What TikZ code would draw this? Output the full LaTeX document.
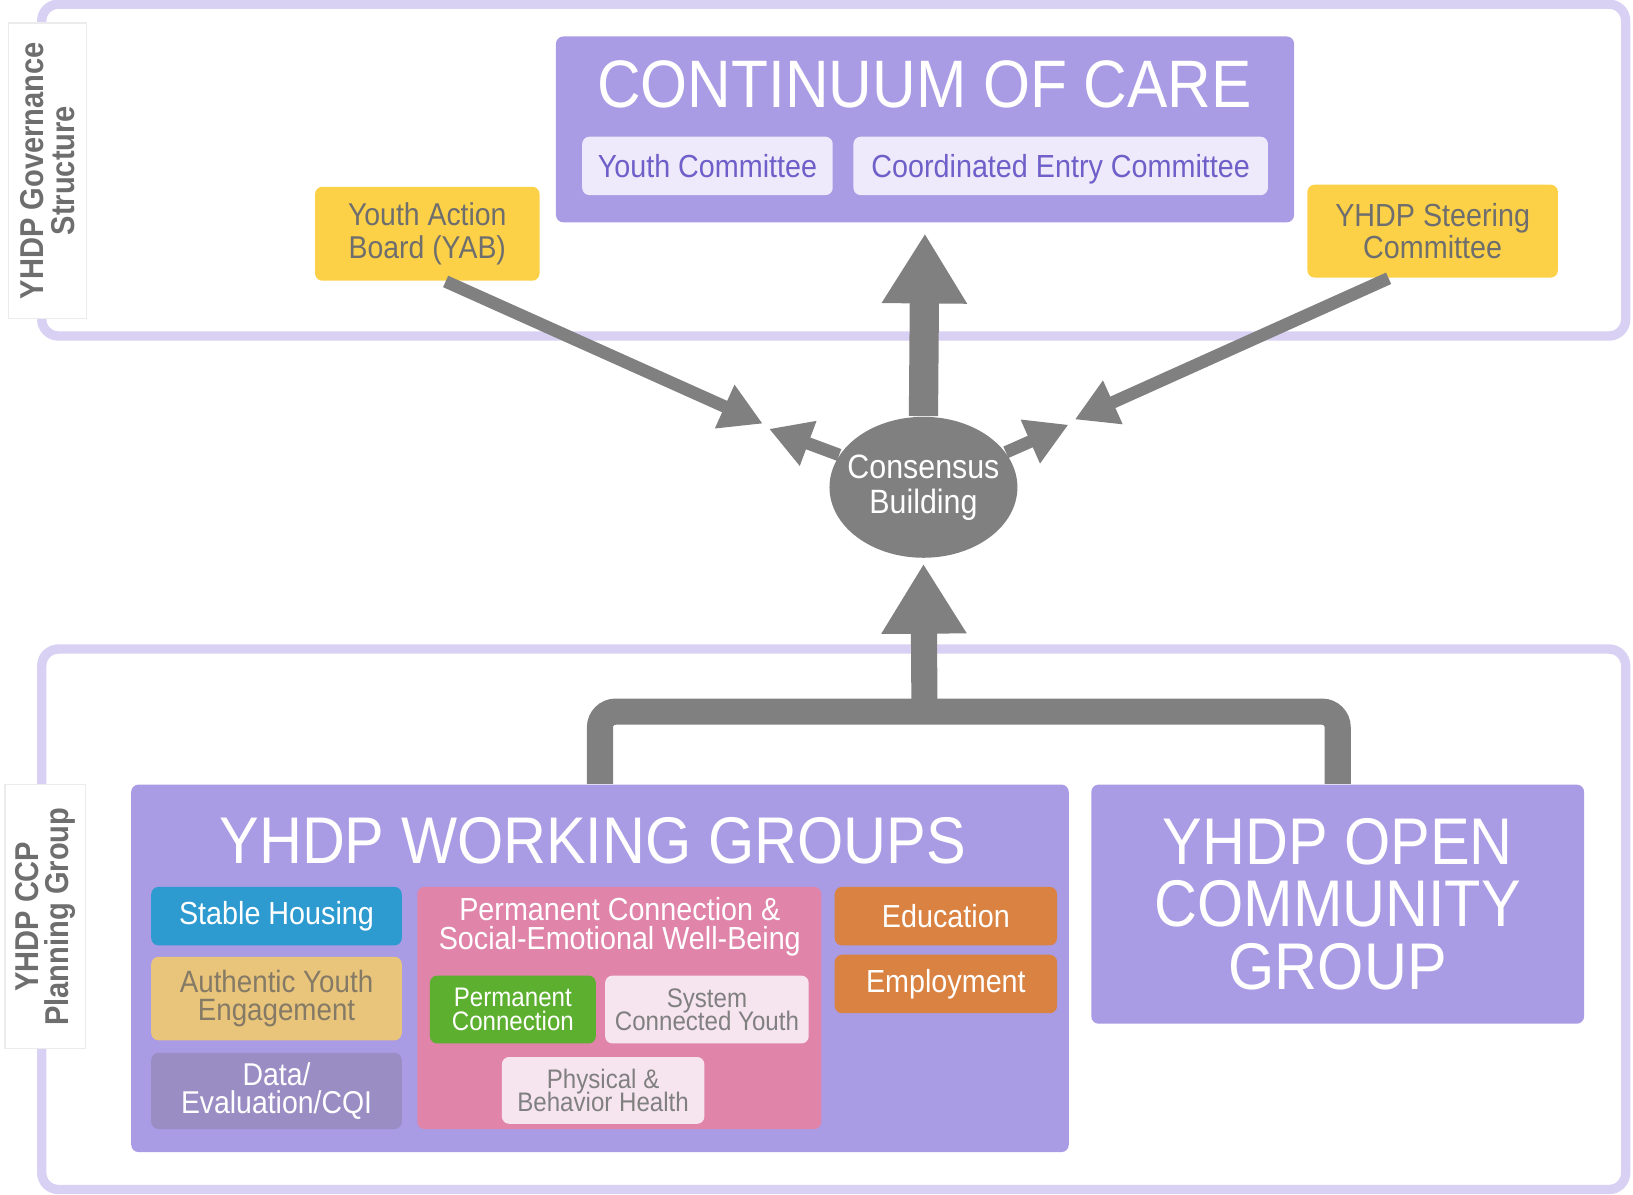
\documentclass[tikz,border=0pt]{standalone}
\usepackage{fontspec}
\setmainfont{Liberation Sans}[FakeStretch=0.9]
\newfontfamily\sidefont{Liberation Sans}[FakeStretch=0.88]
\usepackage{tikz}
\usetikzlibrary{arrows.meta,shapes.geometric}

\definecolor{panelline}{HTML}{D8D1F3}
\definecolor{boxpurple}{HTML}{A99BE4}
\definecolor{subpurple}{HTML}{EEEAFB}
\definecolor{subtext}{HTML}{6F5FC9}
\definecolor{gold}{HTML}{FDD147}
\definecolor{arrowgray}{HTML}{808080}
\definecolor{labgray}{HTML}{6E6E6E}
\definecolor{housing}{HTML}{2E9BD0}
\definecolor{youthtan}{HTML}{E9C57C}
\definecolor{tantext}{HTML}{857A66}
\definecolor{datapurple}{HTML}{9A8DC4}
\definecolor{pcpink}{HTML}{E084A9}
\definecolor{pcgreen}{HTML}{5DAF2F}
\definecolor{palepink}{HTML}{F6E5EE}
\definecolor{eduorange}{HTML}{D98241}

\newcommand{\fsz}[2]{\fontsize{#1}{#2}\selectfont\lineskiplimit=-10pt\lineskip=0pt}

\tikzset{
	panel/.style={draw=panelline, line width=0.09cm, rounded corners=0.16cm},
	sidelab/.style={draw=black!8, fill=white, rotate=90, align=center, text=labgray, inner sep=0pt, font=\sidefont\bfseries\fsz{9}{8.3}},
	group/.style={fill=boxpurple, rounded corners=2pt, inner sep=0pt},
	grouptitle/.style={text=white, align=center, font=\fsz{18}{17}},
	sub/.style={rounded corners=2pt, inner sep=0pt, align=center, font=\fsz{8.7}{8.2}},
	smallsub/.style={sub, font=\fsz{7.3}{6.4}},
	flow/.style={draw=arrowgray, line width=0.12cm, -{Triangle[length=0.40cm,width=0.43cm]}},
	bigflow/.style={draw=arrowgray, line width=#1, -{Triangle[length=0.67cm,width=0.77cm]}},
}

\begin{document}
\begin{tikzpicture}[x=0.01cm, y=-0.01cm]
	\useasboundingbox (0,0) rectangle (1565,1145);
	% panels
	\draw[panel] (40,4) rectangle (1558,322);
	\draw[panel] (40,622) rectangle (1558,1140);
	\node[sidelab, minimum width=2.83cm, minimum height=0.75cm] (govlab) at (45.5,163.5) {YHDP Governance\\Structure};
	\node[sidelab, minimum width=2.53cm, minimum height=0.77cm] (planlab) at (43.5,878.5) {YHDP CCP\\Planning Group};

	% governance
	\node[group, minimum width=7.07cm, minimum height=1.78cm] (coc) at (886.5,124) {};
	\node[grouptitle, font=\fsz{18.3}{17}] (coctitle) at (886,81) {CONTINUUM OF CARE};
	\node[sub, fill=subpurple, text=subtext, minimum width=2.40cm, minimum height=0.56cm] (youthcom) at (678,159) {Youth Committee};
	\node[sub, fill=subpurple, text=subtext, text depth=0pt, minimum width=3.97cm, minimum height=0.56cm] (cecom) at (1016.5,159) {Coordinated Entry Committee};
	\node[sub, fill=gold, text=labgray, minimum width=2.15cm, minimum height=0.90cm, font=\fsz{8.6}{8.8}] (yab) at (409.5,224) {Youth Action\\Board (YAB)};
	\node[sub, fill=gold, text=labgray, minimum width=2.40cm, minimum height=0.89cm, font=\fsz{8.7}{8.5}] (steer) at (1373,221.5) {YHDP Steering\\Committee};
	\node[ellipse, fill=arrowgray, text=white, minimum width=1.80cm, minimum height=1.35cm, inner xsep=-0.1cm, inner ysep=0pt, align=center, font=\fsz{9.2}{9.6}] (cb) at (885,467) {\\[-0.1cm]Consensus\\Building};

	% planning
	\node[group, minimum width=8.98cm, minimum height=3.52cm] (wg) at (575,928) {};
	\node[grouptitle] (wgtitle) at (568,806) {YHDP WORKING GROUPS};
	\node[sub, fill=housing, text=white, minimum width=2.40cm, minimum height=0.56cm] (housing) at (265,878) {Stable Housing};
	\node[sub, fill=youthtan, text=tantext, minimum width=2.40cm, minimum height=0.80cm, font=\fsz{8.4}{7.4}] (engage) at (265,957) {Authentic Youth\\Engagement};
	\node[sub, fill=datapurple, text=white, minimum width=2.40cm, minimum height=0.73cm, font=\fsz{8.6}{7.6}] (data) at (265,1045.5) {Data/\\Evaluation/CQI};
	\node[sub, fill=pcpink, minimum width=3.87cm, minimum height=2.32cm] (pc) at (593.5,966) {};
	\node[text=white, align=center, inner sep=0pt, font=\fsz{8.7}{8}] (pctitle) at (594,888) {Permanent Connection \&\\Social-Emotional Well-Being};
	\node[smallsub, fill=pcgreen, text=white, minimum width=1.59cm, minimum height=0.65cm] (pconn) at (491.5,967.5) {Permanent\\Connection};
	\node[smallsub, fill=palepink, text=arrowgray, minimum width=1.95cm, minimum height=0.65cm] (sysyouth) at (677.5,967.5) {System\\Connected Youth};
	\node[smallsub, fill=palepink, text=arrowgray, minimum width=1.94cm, minimum height=0.64cm] (health) at (578,1045) {Physical \&\\Behavior Health};
	\node[sub, fill=eduorange, text=white, minimum width=2.13cm, minimum height=0.56cm] (edu) at (906.5,878) {Education};
	\node[sub, fill=eduorange, text=white, minimum width=2.13cm, minimum height=0.56cm] (employ) at (906.5,943) {Employment};
	\node[group, text=white, align=center, minimum width=4.72cm, minimum height=2.29cm, font=\fsz{18}{17}] (ocg) at (1282,866.5) {YHDP OPEN\\COMMUNITY\\GROUP};

	% arrows
	\coordinate (yabtip) at (731,406);
	\coordinate (steertip) at (1030,402);
	\coordinate (cbleft) at (737,411);
	\coordinate (cbright) at (1024,407);
	\coordinate (join) at (886,682);
	\draw[flow] ([xshift=5pt]yab.south) -- (yabtip);
	\draw[flow] ([xshift=-12pt]steer.south) -- (steertip);
	\draw[flow] (cb.159) -- (cbleft);
	\draw[flow] (cb.23) -- (cbright);
	\draw[bigflow=0.28cm, shorten >=0.1cm] (cb.north) -- (coc.south);
	\draw[draw=arrowgray, line width=0.25cm, rounded corners=0.15cm] (wg.north) |- (join) -| (ocg.north);
	\draw[bigflow=0.25cm, shorten >=0.05cm] (join) -- (cb.south);
\end{tikzpicture}
\end{document}
